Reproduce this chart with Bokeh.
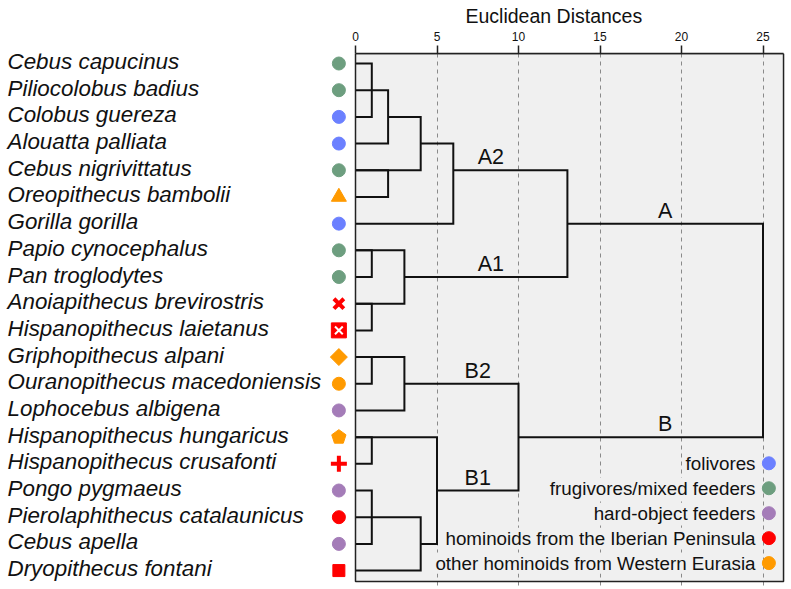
import math
from bokeh.plotting import figure
from bokeh.models import Range1d, FixedTicker, ColumnDataSource
from bokeh.core.properties import value
from bokeh.embed import file_html
from bokeh.resources import INLINE

# ---------------- data ----------------
species = [
    "Cebus capucinus", "Piliocolobus badius", "Colobus guereza", "Alouatta palliata",
    "Cebus nigrivittatus", "Oreopithecus bambolii", "Gorilla gorilla", "Papio cynocephalus",
    "Pan troglodytes", "Anoiapithecus brevirostris", "Hispanopithecus laietanus",
    "Griphopithecus alpani", "Ouranopithecus macedoniensis", "Lophocebus albigena",
    "Hispanopithecus hungaricus", "Hispanopithecus crusafonti", "Pongo pygmaeus",
    "Pierolaphithecus catalaunicus", "Cebus apella", "Dryopithecus fontani",
]
group = [
    "frugivore", "frugivore", "folivore", "folivore", "frugivore", "eurasian", "folivore",
    "frugivore", "frugivore", "iberian", "iberian", "eurasian", "eurasian", "hard",
    "eurasian", "iberian", "hard", "iberian", "hard", "iberian",
]
fossil_shape = {
    "Oreopithecus bambolii": "triangle",
    "Anoiapithecus brevirostris": "x",
    "Hispanopithecus laietanus": "square_x",
    "Griphopithecus alpani": "diamond",
    "Ouranopithecus macedoniensis": "circle",
    "Hispanopithecus hungaricus": "pentagon",
    "Hispanopithecus crusafonti": "cross",
    "Pierolaphithecus catalaunicus": "circle",
    "Dryopithecus fontani": "square",
}

# dendrogram merges (rows are 1-based leaf positions, distances in Euclidean units)
merge_top_row = [1, 2, 3, 5, 4, 8, 10, 8, 5, 12, 12, 15, 17, 18, 15, 13, 7]
merge_top_from = [0, 0, 2, 0, 4, 0, 0, 0, 6, 0, 0, 0, 0, 0, 0, 3, 13]
merge_bot_row = [3, 4, 5, 6, 7, 9, 11, 10, 9, 13, 14, 16, 19, 20, 19, 17, 15]
merge_bot_from = [0, 0, 0, 0, 0, 0, 0, 0, 3, 0, 0, 0, 0, 0, 4, 5, 10]
merge_height = [1, 2, 4, 2, 6, 1, 1, 3, 13, 1, 3, 1, 1, 4, 5, 10, 25]

cluster_labels = ["A2", "A1", "A", "B2", "B1", "B"]
cluster_label_x = [8.3, 8.3, 19.0, 7.5, 7.5, 19.0]
cluster_label_row = [5, 9, 7, 13, 17, 15]

axis_ticks = [0, 5, 10, 15, 20, 25]
axis_title = "Euclidean Distances"

legend_groups = ["folivore", "frugivore", "hard", "iberian", "eurasian"]
legend_labels = [
    "folivores", "frugivores/mixed feeders", "hard-object feeders",
    "hominoids from the Iberian Peninsula", "other hominoids from Western Eurasia",
]

# ---------------- style ----------------
group_color = {
    "folivore": "#6b80ff",
    "frugivore": "#6d9e7f",
    "hard": "#a47cb8",
    "iberian": "#ff0000",
    "eurasian": "#ff9a00",
}
FONT = value("Liberation Sans")
W, H = 790, 588
PX_PER_UNIT = 16.3
ZERO_PX = 355
BOX_RIGHT = 26.26
BOX_TOP = 0.625
BOX_BOTTOM = 20.41
Y_BOTTOM = 20.672
LABEL_X = -21.35
MARKER_X = -1.02
LEG_TEXT_X = 24.54
LEG_DOT_X = 25.36
LEG_Y0 = 15.98
LEG_STEP = 0.935

p = figure(
    width=W, height=H,
    x_range=Range1d(-ZERO_PX / PX_PER_UNIT, (W - ZERO_PX) / PX_PER_UNIT),
    y_range=Range1d(Y_BOTTOM, BOX_TOP),
    x_axis_location="above", y_axis_location=None,
    output_backend="svg", toolbar_location=None,
    min_border_left=0, min_border_right=0, min_border_bottom=0, min_border_top=53,
)
p.outline_line_color = None
p.background_fill_color = "white"
p.border_fill_color = "white"

# title
p.title.text = axis_title
p.title.align = "left"
p.title.offset = 465
p.title.standoff = 4
p.title.text_font = "Liberation Sans"
p.title.text_font_size = "19.5px"
p.title.text_font_style = "normal"
p.title.text_color = "#111111"

# axis
ax = p.xaxis[0]
ax.ticker = FixedTicker(ticks=axis_ticks)
ax.bounds = (0, BOX_RIGHT)
ax.axis_line_width = 1.5
ax.axis_line_color = "#222222"
ax.major_tick_out = 8
ax.major_tick_in = 0
ax.minor_tick_out = 0
ax.minor_tick_in = 0
ax.major_tick_line_width = 1.5
ax.major_tick_line_color = "#222222"
ax.major_label_text_font = "Liberation Sans"
ax.major_label_text_font_size = "12px"
ax.major_label_text_color = "#111111"
ax.major_label_standoff = 5

p.xgrid.ticker = FixedTicker(ticks=[t for t in axis_ticks if t > 0])
p.xgrid.grid_line_color = "#8a8a8a"
p.xgrid.grid_line_dash = "4 4"
p.xgrid.grid_line_width = 1
p.ygrid.visible = False

# gray box
p.quad(left=0, right=BOX_RIGHT, top=BOX_TOP, bottom=BOX_BOTTOM,
       fill_color="#f0f0f0", line_color=None, level="image")

# dendrogram brackets
xs, ys = [], []
for tr, tf, br, bf, h in zip(merge_top_row, merge_top_from, merge_bot_row, merge_bot_from, merge_height):
    xs.append([tf, h, h, bf])
    ys.append([tr, tr, br, br])
p.multi_line(xs, ys, line_color="#111111", line_width=2, line_join="miter")

# box border
p.quad(left=0, right=BOX_RIGHT, top=BOX_TOP, bottom=BOX_BOTTOM,
       fill_color=None, line_color="#222222", line_width=1.5)

# species labels
rows = list(range(1, len(species) + 1))
p.text(x=[LABEL_X] * len(species), y=rows, text=species,
       text_font=FONT, text_font_style="italic", text_font_size="22.4px",
       text_baseline="middle", text_align="left", text_color="#111111", y_offset=-2)

# species markers
shape_style = {
    "circle": dict(marker="circle", size=13, angle=0.0, line_width=1),
    "triangle": dict(marker="triangle", size=15, angle=0.0, line_width=1),
    "diamond": dict(marker="square", size=12, angle=math.pi / 4, line_width=1),
    "square": dict(marker="square", size=12, angle=0.0, line_width=1),
    "square_x": dict(marker="square", size=15, angle=0.0, line_width=1),
    "x": dict(marker="x", size=14, angle=0.0, line_width=4),
    "cross": dict(marker="cross", size=16, angle=0.0, line_width=4),
}
mk = dict(x=[], y=[], marker=[], size=[], angle=[], lw=[], color=[])
pent = dict(x=[], y=[], color=[])
sqx = dict(x=[], y=[])
for name, g, r in zip(species, group, rows):
    shape = fossil_shape.get(name, "circle")
    col = group_color[g]
    if shape == "pentagon":
        pent["x"].append(MARKER_X); pent["y"].append(r); pent["color"].append(col)
        continue
    st = shape_style[shape]
    mk["x"].append(MARKER_X); mk["y"].append(r)
    mk["marker"].append(st["marker"]); mk["size"].append(st["size"])
    mk["angle"].append(st["angle"]); mk["lw"].append(st["line_width"])
    mk["color"].append(col)
    if shape == "square_x":
        sqx["x"].append(MARKER_X); sqx["y"].append(r)

src = ColumnDataSource(mk)
p.scatter(x="x", y="y", marker="marker", size="size", angle="angle",
          fill_color="color", line_color="color", line_width="lw", source=src)
p.scatter(x=sqx["x"], y=sqx["y"], marker="x", size=11, line_color="white", line_width=2)
if hasattr(p, "ngon"):
    p.ngon(x=pent["x"], y=pent["y"], radius=7.5, radius_units="screen", n=5,
           fill_color=pent["color"], line_color=pent["color"])
else:
    p.scatter(x=pent["x"], y=pent["y"], marker="hex", size=14,
              fill_color=pent["color"], line_color=pent["color"])

# cluster labels
p.text(x=cluster_label_x, y=cluster_label_row, text=cluster_labels,
       text_font=FONT, text_font_size="21.5px", text_align="center",
       text_baseline="bottom", text_color="#111111", y_offset=-1)

# legend
leg_y = [LEG_Y0 + i * LEG_STEP for i in range(len(legend_labels))]
p.text(x=[LEG_TEXT_X] * len(legend_labels), y=leg_y, text=legend_labels,
       text_font=FONT, text_font_size="18.8px", text_align="right",
       text_baseline="middle", text_color="#111111",
       background_fill_color="#f0f0f0")
p.scatter(x=[LEG_DOT_X] * len(legend_labels), y=leg_y, marker="circle", size=13,
          fill_color=[group_color[g] for g in legend_groups],
          line_color=[group_color[g] for g in legend_groups])

open("out.html", "w").write(file_html(p, INLINE))
